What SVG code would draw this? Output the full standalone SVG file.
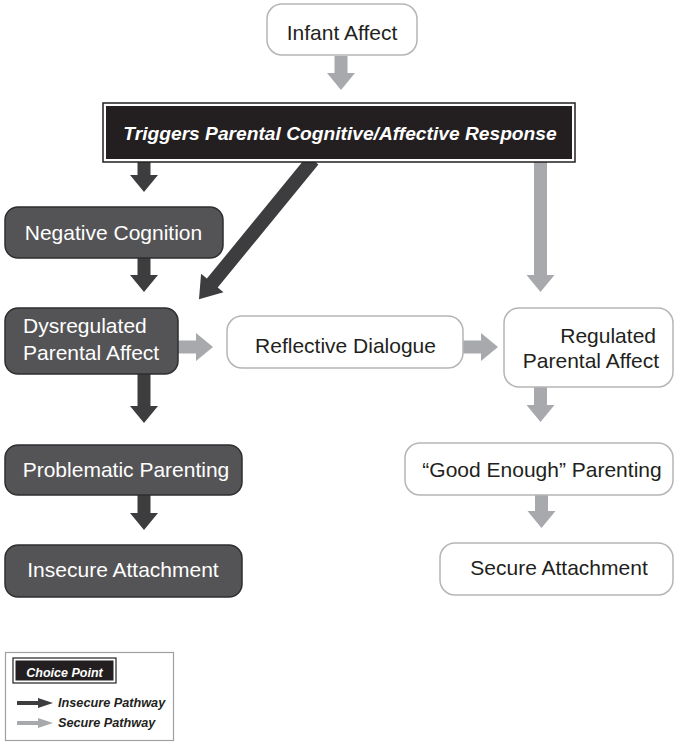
<svg xmlns="http://www.w3.org/2000/svg" width="674" height="743" viewBox="0 0 674 743">
  <style>
    .lbl { font-family: "Liberation Sans", Arial, sans-serif; font-size: 21px; fill: #231f20; }
    .dark rect { fill: #545456; stroke: #2e2e30; stroke-width: 1.5; }
    .dark text { fill: #ffffff; }
    .light rect { fill: #ffffff; stroke: #b5b5b7; stroke-width: 1.5; }
    .ins { fill: #3d3d3f; }
    .sec { fill: #a7a9ac; }
    .emph { font-family: "Liberation Sans", Arial, sans-serif; font-style: italic; font-weight: bold; }
  </style>

  <!-- connectors (drawn first so boxes overlap their ends) -->
  <g id="connectors">
    <polygon class="sec" points="334.5,56 347.5,56 347.5,73 355,73 341,90 327,73 334.5,73"/>
    <polygon class="ins" points="137.5,160 150.5,160 150.5,175 158,175 144,192 130,175 137.5,175"/>
    <polygon class="ins" transform="translate(313,160) rotate(129.3)" points="0,-7 159,-7 159,-14.5 180,0 159,14.5 159,7 0,7"/>
    <polygon class="sec" points="534,160 547,160 547,275 554.5,275 540.5,292 526.5,275 534,275"/>
    <polygon class="ins" points="137.5,258 150.5,258 150.5,275 158,275 144,292 130,275 137.5,275"/>
    <polygon class="ins" points="137.5,373 150.5,373 150.5,406 158,406 144,423 130,406 137.5,406"/>
    <polygon class="ins" points="137.5,494 150.5,494 150.5,513 158,513 144,530 130,513 137.5,513"/>
    <polygon class="sec" points="178,340.5 196,340.5 196,333 213,347 196,361 196,353.5 178,353.5"/>
    <polygon class="sec" points="463,340.5 481,340.5 481,333 498,347 481,361 481,353.5 463,353.5"/>
    <polygon class="sec" points="534,386 547,386 547,405 554.5,405 540.5,422 526.5,405 534,405"/>
    <polygon class="sec" points="535,494 548,494 548,511 555.5,511 541.5,528 527.5,511 535,511"/>
  </g>

  <g id="infant-affect" class="light">
    <rect x="267" y="4" width="150" height="51" rx="15"/>
    <text class="lbl" x="342" y="39.5" text-anchor="middle">Infant Affect</text>
  </g>

  <g id="triggers">
    <rect x="103" y="103" width="472" height="59" fill="#ffffff" stroke="#231f20" stroke-width="1.5"/>
    <rect x="106" y="106" width="466" height="53" fill="#231f20"/>
    <text class="emph" x="340" y="140" text-anchor="middle" font-size="19.2" fill="#ffffff">Triggers Parental Cognitive/Affective Response</text>
  </g>

  <g id="negative-cognition" class="dark">
    <rect x="5" y="207" width="218" height="51" rx="13"/>
    <text class="lbl" x="113.5" y="240" text-anchor="middle">Negative Cognition</text>
  </g>

  <g id="dysregulated" class="dark">
    <rect x="5" y="308" width="173" height="66" rx="13"/>
    <text class="lbl" x="23" y="333">Dysregulated</text>
    <text class="lbl" x="23" y="360">Parental Affect</text>
  </g>

  <g id="reflective-dialogue" class="light">
    <rect x="227" y="316" width="236" height="52" rx="15"/>
    <text class="lbl" x="345.5" y="353" text-anchor="middle">Reflective Dialogue</text>
  </g>

  <g id="regulated" class="light">
    <rect x="504" y="308" width="169" height="79" rx="15"/>
    <text class="lbl" x="656" y="343" text-anchor="end">Regulated</text>
    <text class="lbl" x="659" y="368" text-anchor="end">Parental Affect</text>
  </g>

  <g id="problematic-parenting" class="dark">
    <rect x="5" y="445" width="237" height="50" rx="13"/>
    <text class="lbl" x="126" y="477" text-anchor="middle">Problematic Parenting</text>
  </g>

  <g id="insecure-attachment" class="dark">
    <rect x="5" y="545" width="237" height="52" rx="13"/>
    <text class="lbl" x="123" y="577" text-anchor="middle">Insecure Attachment</text>
  </g>

  <g id="good-enough" class="light">
    <rect x="405" y="443" width="268" height="52" rx="15"/>
    <text class="lbl" x="542" y="477" text-anchor="middle">“Good Enough” Parenting</text>
  </g>

  <g id="secure-attachment" class="light">
    <rect x="440" y="543" width="233" height="52" rx="15"/>
    <text class="lbl" x="559" y="575" text-anchor="middle">Secure Attachment</text>
  </g>

  <!-- key -->
  <g id="legend">
    <rect x="5.5" y="652.5" width="168" height="88" fill="#ffffff" stroke="#a0a0a2" stroke-width="1.2"/>
    <rect x="13" y="658" width="103" height="25" fill="#ffffff" stroke="#231f20" stroke-width="1.2"/>
    <rect x="15.5" y="660.5" width="98" height="20" fill="#231f20"/>
    <text class="emph" x="64.5" y="676.5" text-anchor="middle" font-size="12.5" fill="#ffffff">Choice Point</text>
    <polygon class="ins" points="17,701 38,701 38,698 53,703 38,708 38,705 17,705"/>
    <text class="emph" x="58" y="707" font-size="12.7" fill="#231f20">Insecure Pathway</text>
    <polygon class="sec" points="17,721 38,721 38,718 53,723 38,728 38,725 17,725"/>
    <text class="emph" x="58" y="727" font-size="12.7" fill="#231f20">Secure Pathway</text>
  </g>
</svg>
